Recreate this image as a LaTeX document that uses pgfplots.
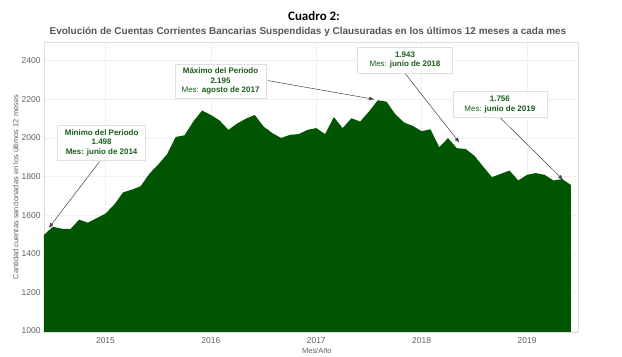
\documentclass[border=0pt]{standalone}
\usepackage{pgfplots}
\pgfplotsset{compat=1.18}
\usepackage{pgfplotstable}
\usepackage{fontspec}
\setmainfont{Liberation Sans}
\newfontfamily\titlefont{Carlito}
\usetikzlibrary{arrows.meta}
\definecolor{areagreen}{RGB}{0,85,0}
\definecolor{anngreen}{RGB}{25,95,25}
\definecolor{txtgray}{RGB}{95,95,95}

\pgfplotstableread{
m v
0 1498
1 1540
2 1530
3 1528
4 1577
5 1561
6 1585
7 1608
8 1655
9 1718
10 1732
11 1750
12 1815
13 1862
14 1915
15 2005
16 2014
17 2085
18 2142
19 2119
20 2090
21 2042
22 2075
23 2100
24 2119
25 2059
26 2025
27 2000
28 2016
29 2020
30 2042
31 2051
32 2020
33 2108
34 2051
35 2102
36 2085
37 2137
38 2195
39 2188
40 2123
41 2080
42 2062
43 2035
44 2045
45 1952
46 1999
47 1947
48 1943
49 1908
50 1852
51 1797
52 1814
53 1831
54 1780
55 1809
56 1818
57 1809
58 1780
59 1787
60 1756
}\datatable

\begin{document}
\begin{tikzpicture}
\useasboundingbox (0,0) rectangle (622bp,357bp);
\node[font=\titlefont\bfseries\fontsize{13}{15}\selectfont] at (314bp,341bp) {Cuadro 2:};
\node[font=\bfseries\fontsize{10}{12}\selectfont, text=txtgray!90!black] at (308bp,325bp) {Evolución de Cuentas Corrientes Bancarias Suspendidas y Clausuradas en los últimos 12 meses a cada mes};
\begin{axis}[
  at={(44bp,25bp)}, anchor=south west,
  scale only axis, width=534bp, height=290bp,
  xmin=0, xmax=60.8, ymin=995, ymax=2497,
  xtick={7,19,31,43,55},
  xticklabels={2015,2016,2017,2018,2019},
  ytick={1000,1200,1400,1600,1800,2000,2200,2400},
  /pgf/number format/assume math mode=true,
  /pgf/number format/1000 sep={},
  major tick length=0pt,
  grid=major,
  major grid style={gray!12, line width=0.6pt},
  axis line style={gray!25},
  tick label style={font=\fontsize{8.5}{10}\selectfont, text=txtgray},
  xticklabel style={yshift=-2bp},
  ylabel={Cantidad cuentas sancionadas en los últimos 12 meses},
  ylabel style={at={(axis description cs:-0.053,0.5)}, anchor=center, font=\fontsize{7.5}{9}\selectfont, text=txtgray},
  xlabel={Mes/Año},
  xlabel style={at={(axis description cs:0.511,-0.066)}, anchor=center, font=\fontsize{7.5}{9}\selectfont, text=txtgray},
  clip mode=individual,
]
\addplot[fill=areagreen, draw=none] table[x=m, y=v] {\datatable} \closedcycle;

\draw[-{Latex[length=5bp,width=4bp]}, black!75, line width=0.5pt] (axis cs:6.33,1878) -- (axis cs:0.55,1534);
\draw[-{Latex[length=5bp,width=4bp]}, black!75, line width=0.5pt] (axis cs:25.5,2297) -- (axis cs:37.6,2200);
\draw[-{Latex[length=5bp,width=4bp]}, black!75, line width=0.5pt] (axis cs:41.1,2335) -- (axis cs:47.3,1976);
\draw[-{Latex[length=5bp,width=4bp]}, black!75, line width=0.5pt] (axis cs:51.9,2107) -- (axis cs:59.1,1783);

\node[draw=gray!25, fill=white, align=center, text=anngreen, font=\bfseries\fontsize{8}{9.5}\selectfont, minimum width=88bp, minimum height=35bp, inner sep=1bp] at (axis cs:6.56,1975) {Minimo del Periodo\\1.498\\Mes: junio de 2014};
\node[draw=gray!25, fill=white, align=center, text=anngreen, font=\bfseries\fontsize{8}{9.5}\selectfont, minimum width=91bp, minimum height=34bp, inner sep=1bp] at (axis cs:20.1,2295) {Máximo del Periodo\\2.195\\{\mdseries Mes:} agosto de 2017};
\node[draw=gray!25, fill=white, align=center, text=anngreen, font=\bfseries\fontsize{8}{9.5}\selectfont, minimum width=95bp, minimum height=26bp, inner sep=1bp] at (axis cs:41.1,2404) {1.943\\{\mdseries Mes:} junio de 2018};
\node[draw=gray!25, fill=white, align=center, text=anngreen, font=\bfseries\fontsize{8}{9.5}\selectfont, minimum width=94bp, minimum height=26bp, inner sep=1bp] at (axis cs:51.9,2174) {1.756\\{\mdseries Mes:} junio de 2019};
\end{axis}
\end{tikzpicture}
\end{document}
